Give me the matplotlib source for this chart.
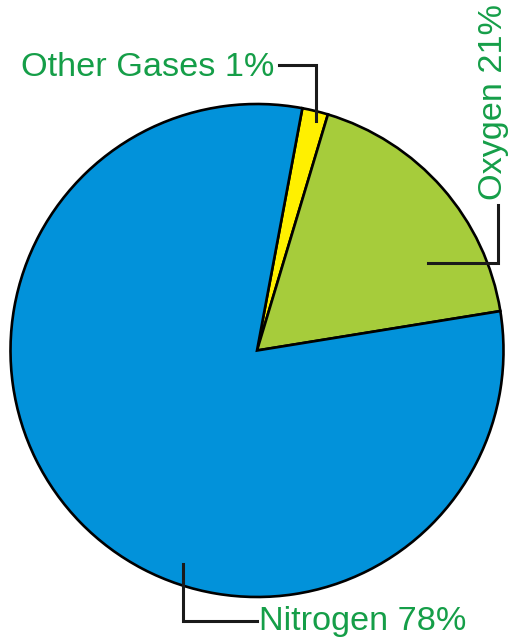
import matplotlib.pyplot as plt

# Datos (proporciones, textos de las etiquetas)
gases = ['Other Gases', 'Oxygen', 'Nitrogen']
shares = [1.7, 17.8, 80.5]          # porcion del circulo como se ve en la imagen
label_pct = ['1%', '21%', '78%']    # porcentaje escrito en cada etiqueta
colors = ['#FFF000', '#A6CC3B', '#0292DA']

text_green = '#159E48'
line_color = '#1a1a1a'

fig = plt.figure(figsize=(5.19, 6.39), dpi=100)
ax = fig.add_axes([0, 0, 1, 1])

# Pastel
ax.pie(shares, colors=colors, startangle=79.4, counterclock=False,
       center=(257, 288.5), radius=246.5, frame=True,
       wedgeprops=dict(edgecolor='black', linewidth=1.9))
ax.set_xlim(0, 519)
ax.set_ylim(0, 639)
ax.set_aspect('equal')
ax.axis('off')

font = dict(family=['Liberation Sans', 'DejaVu Sans'], fontsize=24.7, color=text_green)

# Other Gases
ax.text(274, 563, f'{gases[0]} {label_pct[0]}', ha='right', va='baseline', **font)
ax.plot([279, 316, 316], [574, 574, 518], color=line_color, lw=2.2, solid_joinstyle='miter')

# Oxygen (vertical)
ax.text(502, 439, f'{gases[1]} {label_pct[1]}', rotation=90, rotation_mode='anchor',
        ha='left', va='baseline', **font)
ax.plot([498, 498, 428], [434, 376, 376], color=line_color, lw=2.2, solid_joinstyle='miter')

# Nitrogen
ax.text(259, 9, f'{gases[2]} {label_pct[2]}', ha='left', va='baseline', **font)
ax.plot([183, 183, 257], [75, 18, 18], color=line_color, lw=2.2, solid_joinstyle='miter')

plt.savefig('out.png', dpi=100)
